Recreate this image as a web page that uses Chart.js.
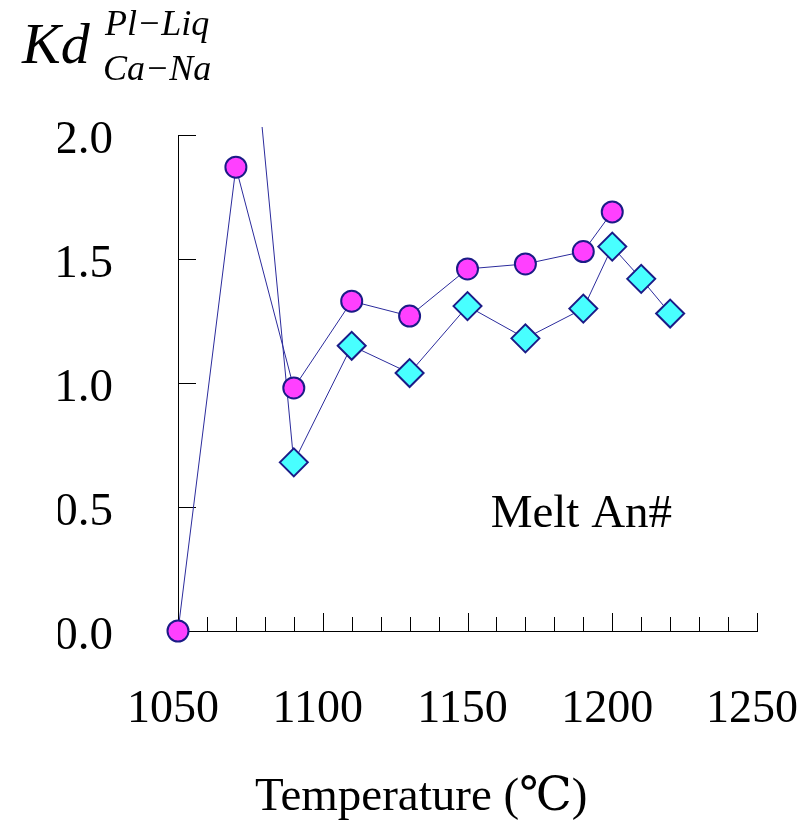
<!DOCTYPE html>
<html>
<head>
<meta charset="utf-8">
<title>Kd Ca-Na vs Temperature</title>
<script src="https://cdn.jsdelivr.net/npm/chart.js@4"></script>
<style>
  body { margin: 0; background: #fff; }
  #kd { display: block; }
</style>
</head>
<body>
<canvas id="kd" width="810" height="832"></canvas>
<script>
// Kd (Ca-Na) plagioclase/liquid, two series
const kdTemps  = [1050, 1070, 1090, 1110, 1130, 1150, 1170, 1190, 1200];
const kdValues = [0.00, 1.87, 0.98, 1.33, 1.27, 1.46, 1.48, 1.53, 1.69];
const anTemps  = [1070, 1090, 1110, 1130, 1150, 1170, 1190, 1200, 1210, 1220];
const anValues = [3.15, 0.68, 1.15, 1.04, 1.31, 1.18, 1.30, 1.55, 1.42, 1.28];
const xTicks = [1050, 1100, 1150, 1200, 1250];
const yTicks = [0.0, 0.5, 1.0, 1.5, 2.0];
const xMinorStep = 10;

const serif = '"Liberation Serif", "DejaVu Serif", "Noto Sans CJK JP", serif';

const axisMarks = {
    id: 'axisMarks',
    beforeDatasetsDraw(chart) {
        const {ctx, scales: {x, y}} = chart;
        ctx.save();
        ctx.strokeStyle = '#000';
        ctx.lineWidth = 1;
        ctx.beginPath();
        for (let v = x.min; v <= x.max; v += xMinorStep) {
            const px = Math.round(x.getPixelForValue(v)) + 0.5;
            const len = v % 50 === 0 ? 18 : 14;
            ctx.moveTo(px, y.bottom);
            ctx.lineTo(px, y.bottom - len);
        }
        yTicks.forEach(v => {
            const py = Math.round(y.getPixelForValue(v)) + 0.5;
            ctx.moveTo(x.left, py);
            ctx.lineTo(x.left + 18, py);
        });
        ctx.stroke();
        ctx.restore();
    },
    afterDraw(chart) {
        const {ctx, scales: {x, y}} = chart;
        ctx.save();
        ctx.fillStyle = '#000';
        ctx.textAlign = 'left';
        ctx.textBaseline = 'alphabetic';
        ctx.font = 'italic 58px ' + serif;
        ctx.fillText('Kd', 22, 63);
        ctx.font = 'italic 36px ' + serif;
        ctx.fillText('Pl\u2212Liq', 105, 35);
        ctx.fillText('Ca\u2212Na', 103, 80);
        ctx.font = '47px ' + serif;
        ctx.fillText('Melt An#', x.getPixelForValue(1158), y.getPixelForValue(0.42));
        ctx.font = '47px ' + serif;
        ctx.fillText('Temperature (\u2103)', 255, 810);
        ctx.restore();
    }
};

function pts(xs, ys) {
    return xs.map((t, i) => ({x: t, y: ys[i]}));
}

const edgeClip = {left: 15, top: 8, right: 15, bottom: 15};

new Chart(document.getElementById('kd'), {
    type: 'scatter',
    data: {
        datasets: [{
            data: pts(kdTemps, kdValues),
            showLine: true,
            tension: 0,
            borderColor: '#2b2b9c',
            borderWidth: 1,
            pointStyle: 'circle',
            pointRadius: 10.5,
            pointBackgroundColor: '#ff40ff',
            pointBorderColor: '#1b1b87',
            pointBorderWidth: 2,
            clip: edgeClip
        }, {
            data: pts(anTemps, anValues),
            showLine: true,
            tension: 0,
            borderColor: '#2b2b9c',
            borderWidth: 1,
            pointStyle: 'rectRot',
            pointRadius: 14,
            pointBackgroundColor: '#48ffff',
            pointBorderColor: '#1b1b87',
            pointBorderWidth: 2,
            clip: edgeClip
        }]
    },
    options: {
        responsive: false,
        animation: false,
        events: [],
        layout: {padding: {left: 58, top: 135, right: 53, bottom: 0}},
        plugins: {legend: {display: false}, tooltip: {enabled: false}},
        scales: {
            x: {
                type: 'linear',
                min: 1050,
                max: 1250,
                afterBuildTicks: s => { s.ticks = xTicks.map(v => ({value: v})); },
                afterFit: s => {
                    s.height = 201;
                    // labels overhang freely, layout padding handles it
                    s.paddingLeft = 0;
                    s.paddingRight = 0;
                },
                grid: {drawOnChartArea: false, drawTicks: false},
                border: {display: true, color: '#000', width: 1},
                ticks: {
                    callback: v => String(v),
                    font: {family: serif, size: 46},
                    color: '#000',
                    padding: 51,
                    labelOffset: -5,
                    maxRotation: 0,
                    autoSkip: false
                }
            },
            y: {
                min: 0,
                max: 2,
                afterBuildTicks: s => { s.ticks = yTicks.map(v => ({value: v})); },
                afterFit: s => { s.width = 120; },
                grid: {drawOnChartArea: false, drawTicks: false},
                border: {display: true, color: '#000', width: 1},
                ticks: {
                    callback: v => v.toFixed(1),
                    font: {family: serif, size: 47},
                    color: '#000',
                    padding: 65,
                    labelOffset: 6
                }
            }
        }
    },
    plugins: [axisMarks]
});
</script>
</body>
</html>
